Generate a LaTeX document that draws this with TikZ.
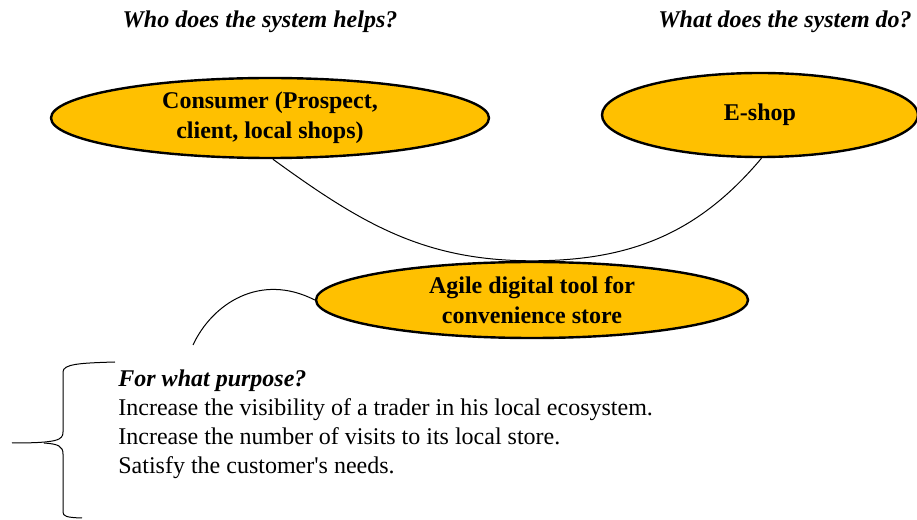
\documentclass[tikz,border=0pt]{standalone}
\usepackage{fontspec}
\setmainfont{Liberation Serif}
\usetikzlibrary{shapes.geometric}
\definecolor{gold}{HTML}{FFC000}

\begin{document}
\begin{tikzpicture}[x=1pt,y=1pt,
        bubble/.style={ellipse,draw,line width=1.2pt,fill=gold,inner sep=0pt,
            align=center,font=\fontsize{12}{15}\selectfont\bfseries},
        question/.style={font=\fontsize{12}{14.5}\selectfont\bfseries\itshape},
        link/.style={line width=0.5pt}]
        \useasboundingbox (0,0) rectangle (458.5,260);
        \node[question] (who) at (130,249) {Who does the system helps?};
        \node[question] (what) at (392.5,249) {What does the system do?};
        \node[bubble,minimum width=219pt,minimum height=40pt] (consumer) at (135,201)
            {Consumer (Prospect,\\client, local shops)};
        \node[bubble,minimum width=158pt,minimum height=42pt] (eshop) at (380,202.5) {E-shop};
        \node[bubble,minimum width=216pt,minimum height=38pt] (tool) at (266,110)
            {Agile digital tool for\\convenience store};
        \draw[link] (consumer.-86) to[out=-36,in=180] (tool.north)
            to[out=0,in=-130] (eshop.-88);
        \coordinate (purpose) at (96.5,87.5);
        \draw[link] (purpose) .. controls (106,108) and (130,124) .. (tool.west);
        % brace
        \draw[link] (57.5,79) .. controls (40,78.5) and (31.5,78) .. (31.5,74) -- (31.5,44)
            .. controls (31.5,40) and (29,38.5) .. (6,38.5);
        \draw[link] (22,38.5) .. controls (29,38) and (31.5,37) .. (31.5,33) -- (31.5,4)
            .. controls (31.5,2) and (33,1.2) .. (41,1);
        \node[anchor=north west,inner sep=0pt,align=left,font=\fontsize{12}{14.5}\selectfont]
            (goals) at (59,75.5) {\textbf{\textit{For what purpose?}}\\
            Increase the visibility of a trader in his local ecosystem.\\
            Increase the number of visits to its local store.\\
            Satisfy the customer\textquotesingle s needs.};
    \end{tikzpicture}
\end{document}
